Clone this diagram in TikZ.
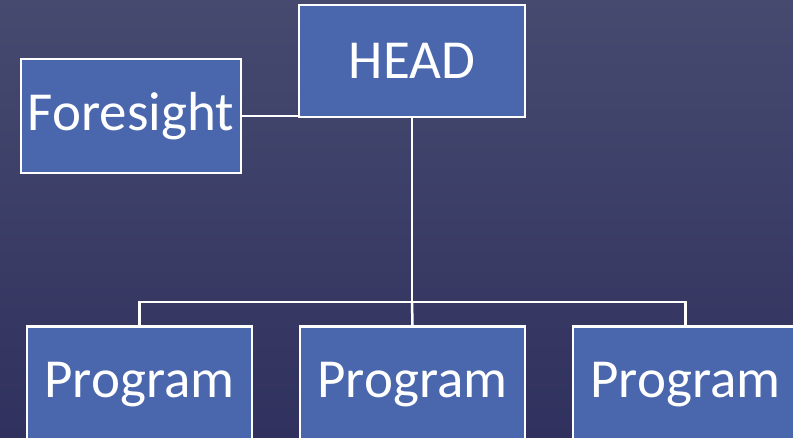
\documentclass[tikz,border=0pt]{standalone}
\usepackage{fontspec}
\setmainfont{Carlito}
\definecolor{bgtop}{HTML}{464A6F}
\definecolor{bgbot}{HTML}{30315E}
\definecolor{boxfill}{HTML}{4A66AC}
\begin{document}
\begin{tikzpicture}[x=1pt,y=-1pt,
  orgbox/.style={draw=white,line width=2.5pt,fill=boxfill,text=white,
    font=\fontsize{55}{62}\selectfont,inner sep=0pt},
  link/.style={draw=white,line width=2.5pt}]
\useasboundingbox (0,0) rectangle (793,437);
\shade[top color=bgtop,bottom color=bgbot] (0,0) rectangle (793,437);
\begin{scope}
\clip (0,0) rectangle (793,437);
\node[orgbox,minimum width=226pt,minimum height=112pt] (head) at (412,61) {HEAD};
\node[orgbox,minimum width=220pt,minimum height=114pt] (fore) at (131,116) {Foresight};
\node[orgbox,minimum width=225pt,minimum height=116pt,anchor=north] (p1) at (139.5,325) {Program};
\node[orgbox,minimum width=225pt,minimum height=116pt,anchor=north] (p2) at (412.5,325) {Program};
\node[orgbox,minimum width=225pt,minimum height=116pt,anchor=north] (p3) at (685.5,325) {Program};
\coordinate (bar) at (412,302);
\draw[link] (fore.east) -- (fore.east -| head.west);
\draw[link] (head.south) -- (bar);
\draw[link] (p1.north) -- (p1.north |- bar) -- (p3.north |- bar) -- (p3.north);
\draw[link] (bar) -- (p2.north);
\end{scope}
\end{tikzpicture}
\end{document}
